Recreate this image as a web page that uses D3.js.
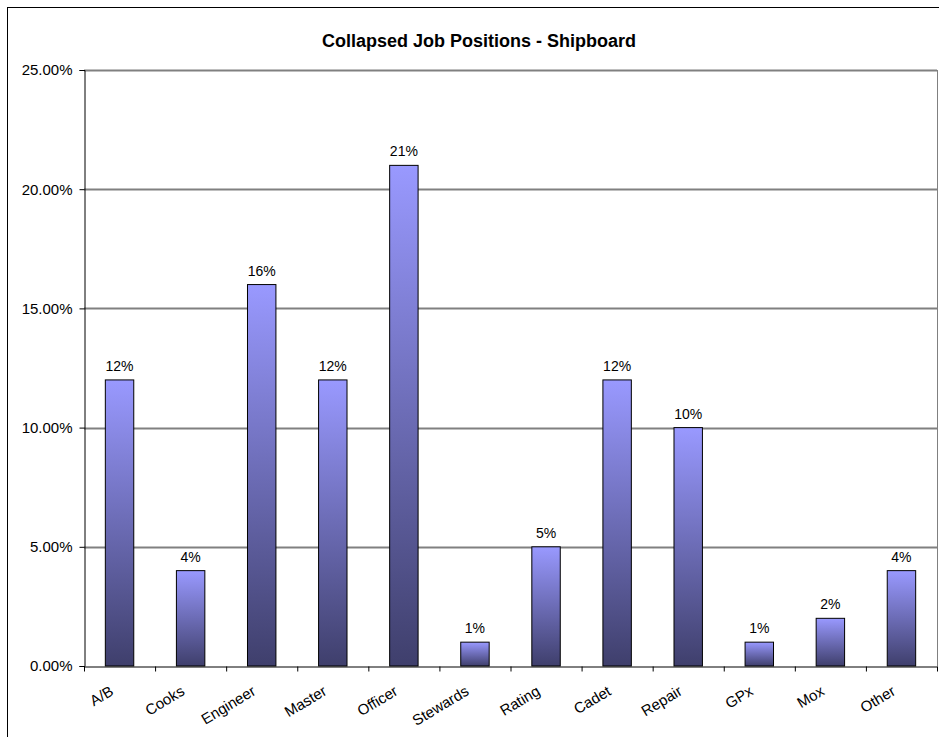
<!DOCTYPE html>
<html><head><meta charset="utf-8">
<script src="https://cdn.jsdelivr.net/npm/d3@7"></script>
<style>body{margin:0;background:#fff}svg{display:block}text{font-family:"Liberation Sans",Arial,sans-serif}</style>
</head><body>
<svg id="c" width="939" height="737"></svg>
<script>
const categories = ["A/B","Cooks","Engineer","Master","Officer","Stewards","Rating","Cadet","Repair","GPx","Mox","Other"];
const values = [12,4,16,12,21,1,5,12,10,1,2,4];
const yTicks = [0,5,10,15,20,25];
const title = "Collapsed Job Positions - Shipboard";

const svg = d3.select("#c");
const m = {left:84, top:70, right:937, bottom:666};
// outer border
svg.append("rect").attr("x",7.5).attr("y",7.5).attr("width",960).attr("height",760)
  .attr("fill","none").attr("stroke","#000").attr("stroke-width",1);

const x = d3.scaleBand().domain(categories).range([m.left,m.right]).paddingInner(0.6).paddingOuter(0.3);
const xb = d3.scaleBand().domain(categories).range([m.left,m.right]);
const y = d3.scaleLinear().domain([0,25]).range([m.bottom,m.top]);

const defs = svg.append("defs");
const g = defs.append("linearGradient").attr("id","bg").attr("x1",0).attr("y1",0).attr("x2",0).attr("y2",1);
g.append("stop").attr("offset","0%").attr("stop-color","#9999ff");
g.append("stop").attr("offset","100%").attr("stop-color","#3f3f6c");

// gridlines
svg.append("g").selectAll("line").data(yTicks.filter(d=>d>0)).join("line")
  .attr("x1",m.left).attr("x2",m.right).attr("y1",d=>Math.round(y(d))+0.5).attr("y2",d=>Math.round(y(d))+0.5)
  .attr("stroke","#808080").attr("stroke-width",2);
// right border of plot area
svg.append("line").attr("x1",m.right+0.5).attr("x2",m.right+0.5).attr("y1",m.top).attr("y2",m.bottom)
  .attr("stroke","#808080").attr("stroke-width",1);

// bars
svg.append("g").selectAll("rect").data(values).join("rect")
  .attr("x",(d,i)=>x(categories[i])).attr("width",x.bandwidth())
  .attr("y",d=>y(d)).attr("height",d=>y(0)-y(d))
  .attr("fill","url(#bg)").attr("stroke","#000").attr("stroke-width",1);

// data labels
svg.append("g").selectAll("text").data(values).join("text")
  .attr("x",(d,i)=>x(categories[i])+x.bandwidth()/2).attr("y",d=>y(d)-9)
  .attr("text-anchor","middle").attr("font-size",14).attr("fill","#000")
  .text(d=>d+"%");

// y axis
const ya = d3.axisLeft(y).tickValues(yTicks).tickSize(5).tickFormat(d=>d.toFixed(2)+"%");
const yg = svg.append("g").attr("transform",`translate(${m.left+0.5},0)`).call(ya);
yg.select(".domain").attr("stroke","#000");
yg.selectAll(".tick line").attr("stroke","#000");
yg.selectAll(".tick text").attr("font-size",15).attr("fill","#000").attr("x",-12).attr("font-family","Liberation Sans, Arial, sans-serif");

// x axis
const xa = d3.axisBottom(xb).tickSize(0).tickFormat("");
const xg = svg.append("g").attr("transform",`translate(0,${m.bottom+0.5})`).call(xa);
xg.select(".domain").attr("stroke","#000");
xg.selectAll(".bt").data(categories.slice(0)).join("line").attr("class","bt")
  .attr("x1",d=>xb(d)+0.5).attr("x2",d=>xb(d)+0.5).attr("y1",0).attr("y2",5).attr("stroke","#000");
xg.append("line").attr("x1",m.right+0.5).attr("x2",m.right+0.5).attr("y1",0).attr("y2",5).attr("stroke","#000");
svg.append("g").selectAll("text").data(categories).join("text")
  .attr("transform",d=>`translate(${xb(d)+xb.bandwidth()/2-5},${m.bottom+28}) rotate(-31)`)
  .attr("text-anchor","end").attr("font-size",15).attr("fill","#000")
  .text(d=>d);

svg.append("text").attr("x",479).attr("y",47).attr("text-anchor","middle")
  .attr("font-size",18).attr("font-weight","bold").text(title);
</script>
</body></html>
